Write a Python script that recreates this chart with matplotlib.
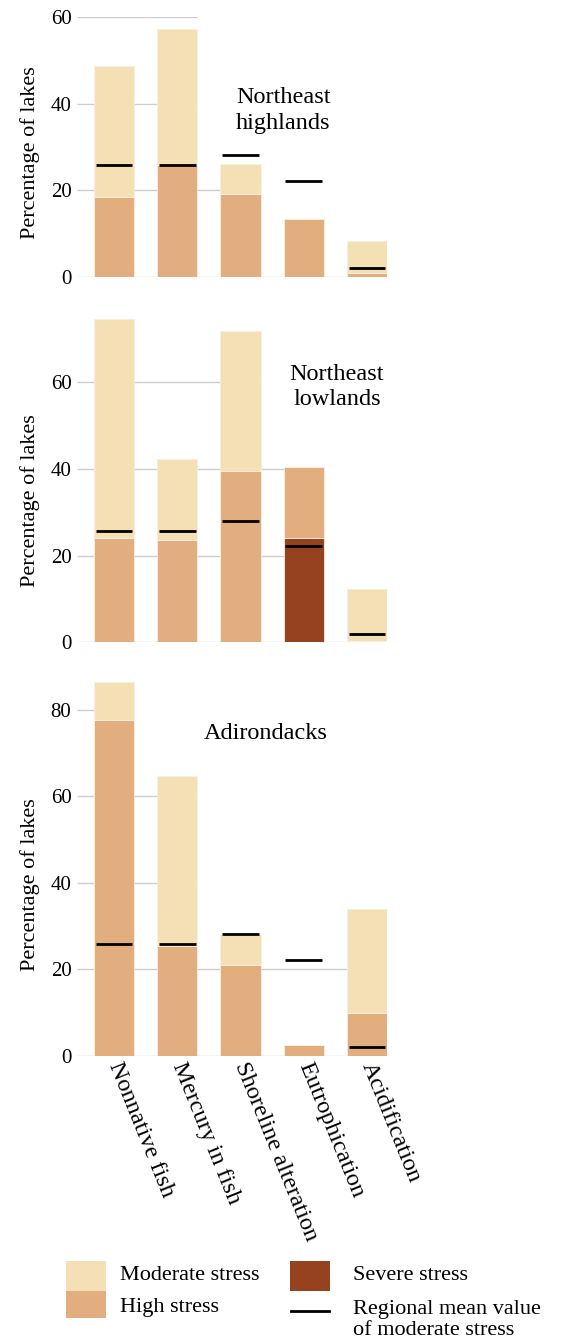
import numpy as np
import matplotlib.pyplot as plt
from matplotlib.patches import Rectangle

plt.rcParams['font.family'] = ['Liberation Serif', 'DejaVu Serif']

categories = ['Nonnative fish', 'Mercury in fish', 'Shoreline alteration',
              'Eutrophication', 'Acidification']
regions = ['Northeast\nhighlands', 'Northeast\nlowlands', 'Adirondacks']

# percent of lakes in each stress class (stacked: severe, high, moderate)
severe_highlands = [0, 0, 0, 0, 0]
high_highlands = [18.4, 25.8, 19.1, 13.5, 0.9]
moderate_highlands = [30.4, 31.5, 6.9, 0, 7.5]

severe_lowlands = [0, 0, 0, 24.1, 0]
high_lowlands = [24.1, 23.7, 39.5, 16.4, 0.4]
moderate_lowlands = [50.5, 18.7, 32.3, 0, 11.9]

severe_adirondacks = [0, 0, 0, 0, 0]
high_adirondacks = [77.5, 25.4, 21.1, 2.6, 10.0]
moderate_adirondacks = [8.8, 39.2, 6.9, 0, 24.0]

regional_mean = [25.8, 25.8, 28.1, 22.2, 2.0]

ticks_highlands = [0, 20, 40, 60]
ticks_lowlands = [0, 20, 40, 60]
ticks_adirondacks = [0, 20, 40, 60, 80]

c_moderate = '#F5DFB4'
c_high = '#E3AE7F'
c_severe = '#97421F'
c_grid = '#CDCDCD'
c_edge = '#FAF0E2'

W, H = 565, 1339
fig = plt.figure(figsize=(W / 100, H / 100), dpi=100)

x = np.arange(len(categories))
bw = 0.633
xlim = (-0.585, 4 + bw / 2)
left, right = 77, 387


def px_axes(top, bottom):
    return fig.add_axes([left / W, 1 - bottom / H, (right - left) / W, (bottom - top) / H])


def draw_panel(ax, severe, high, moderate, ymax, ticks, title, title_xy, label_y):
    severe = np.array(severe, float)
    high = np.array(high, float)
    moderate = np.array(moderate, float)
    total = severe + high + moderate

    ax.set_xlim(*xlim)
    ax.set_ylim(0, ymax)

    # gridlines only run as far as the bars that reach them
    for t in ticks:
        if t == 0:
            end = xlim[1]
        else:
            reach = np.where(total >= t - 5)[0]
            if len(reach) == 0:
                continue
            end = reach[-1] + bw / 2
        ax.hlines(t, xlim[0], end, color=c_grid, lw=1.0, zorder=0)

    kw = dict(width=bw, edgecolor=c_edge, linewidth=0.6, zorder=2)
    ax.bar(x, severe, color=c_severe, **kw)
    ax.bar(x, high, bottom=severe, color=c_high, **kw)
    ax.bar(x, moderate, bottom=severe + high, color=c_moderate, **kw)

    ax.hlines(regional_mean, x - 0.29, x + 0.29, color='black', lw=2.0, zorder=3)

    for s in ax.spines.values():
        s.set_visible(False)
    ax.set_yticks(ticks)
    ax.tick_params(axis='y', length=0, pad=4, labelsize=15)
    ax.tick_params(axis='x', length=0)
    ax.set_xticks([])
    ax.set_ylabel('Percentage of lakes', fontsize=16)
    ax.yaxis.set_label_coords(-0.12, label_y)

    ax.text(title_xy[0], title_xy[1], title, transform=ax.transAxes,
            ha='center', va='center', fontsize=17.5, linespacing=1.3)


ax1 = px_axes(17, 277)
draw_panel(ax1, severe_highlands, high_highlands, moderate_highlands, 60,
           ticks_highlands, regions[0], (0.665, 0.64), 0.48)

ax2 = px_axes(317.5, 642.3)
draw_panel(ax2, severe_lowlands, high_lowlands, moderate_lowlands, 75,
           ticks_lowlands, regions[1], (0.839, 0.786), 0.437)

ax3 = px_axes(679.3, 1056)
draw_panel(ax3, severe_adirondacks, high_adirondacks, moderate_adirondacks, 87,
           ticks_adirondacks, regions[2], (0.61, 0.857), 0.456)
ax3.set_xticks(x)
ax3.set_xticklabels(categories, rotation=-68, ha='left', va='center',
                    rotation_mode='anchor', fontsize=17.5)
ax3.tick_params(axis='x', pad=5)

# legend drawn in pixel coordinates along the bottom strip
lax = fig.add_axes([0, 0, 1, 95 / H])
lax.set_xlim(0, W)
lax.set_ylim(H, H - 95)
lax.axis('off')
lax.add_patch(Rectangle((66, 1261), 40, 30, facecolor=c_moderate, edgecolor='none'))
lax.add_patch(Rectangle((66, 1291), 40, 27, facecolor=c_high, edgecolor='none'))
lax.add_patch(Rectangle((290, 1261), 40, 30, facecolor=c_severe, edgecolor='none'))
lax.plot([291, 329], [1311, 1311], color='black', lw=2.0)
lax.text(120, 1280, 'Moderate stress', fontsize=16, va='baseline')
lax.text(120, 1312, 'High stress', fontsize=16, va='baseline')
lax.text(353, 1280, 'Severe stress', fontsize=16, va='baseline')
lax.text(353, 1335, 'Regional mean value\nof moderate stress', fontsize=16,
         va='baseline', linespacing=1.15)

fig.savefig('out.png', dpi=100)
